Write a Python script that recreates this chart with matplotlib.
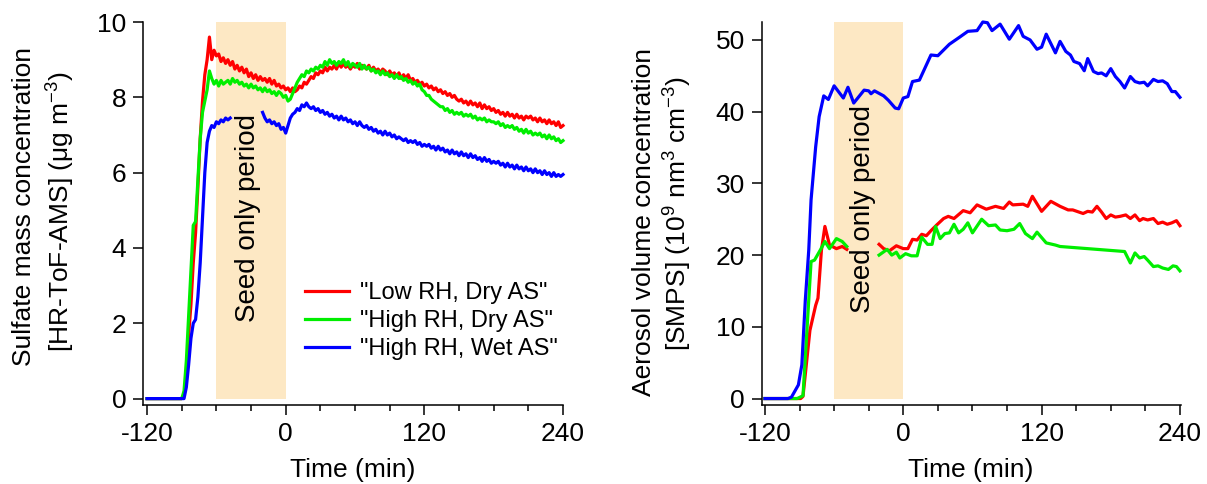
import matplotlib
matplotlib.use('Agg')
import matplotlib.pyplot as plt
import numpy as np

plt.rcParams['font.family'] = ['Liberation Sans', 'DejaVu Sans']
plt.rcParams['mathtext.fontset'] = 'custom'
plt.rcParams['mathtext.rm'] = 'Liberation Sans'
plt.rcParams['mathtext.it'] = 'Liberation Sans:italic'
plt.rcParams['axes.unicode_minus'] = False

nan = np.nan

# HR-ToF-AMS sulfate, 2-min grid from -120 to 240 min
ams_time = np.arange(-120, 241, 2)
ams_low_dry = [
    0, 0, 0, 0, 0, 0, 0, 0, 0, 0,
    0, 0, 0, 0, 0, 0, 0.1, 0.6, 1.7, 2.5,
    3.6, 4.4, 5.6, 6.9, 7.9, 8.6, 9.0, 9.6, 9.0, 9.25,
    9.1, 9.15, 8.95, 9.05, 8.9, 9.0, 8.85, 8.95, 8.75, 8.85,
    8.7, 8.8, 8.65, 8.75, 8.55, 8.65, 8.5, 8.6, 8.45, 8.55,
    8.45, 8.5, 8.4, 8.5, 8.35, 8.45, 8.3, 8.35, 8.25, 8.3,
    8.2, 8.25, 8.15, 8.25, 8.15, 8.2, 8.3, 8.25, 8.4, 8.35,
    8.45, 8.55, 8.5, 8.65, 8.6, 8.7, 8.65, 8.8, 8.7, 8.8,
    8.75, 8.85, 8.75, 8.9, 8.8, 8.9, 8.8, 8.85, 8.75, 8.85,
    8.8, 8.9, 8.75, 8.85, 8.8, 8.75, 8.85, 8.7, 8.8, 8.7,
    8.75, 8.65, 8.75, 8.7, 8.6, 8.7, 8.6, 8.65, 8.55, 8.65,
    8.5, 8.6, 8.5, 8.6, 8.45, 8.5, 8.4, 8.45, 8.35, 8.4,
    8.3, 8.35, 8.25, 8.3, 8.2, 8.25, 8.15, 8.2, 8.1, 8.15,
    8.05, 8.1, 8.0, 8.05, 7.95, 7.9, 7.95, 7.85, 7.9, 7.8,
    7.9, 7.8, 7.85, 7.75, 7.85, 7.7, 7.8, 7.7, 7.75, 7.65,
    7.7, 7.6, 7.65, 7.55, 7.6, 7.5, 7.6, 7.5, 7.55, 7.45,
    7.55, 7.45, 7.5, 7.4, 7.5, 7.45, 7.5, 7.4, 7.45, 7.35,
    7.45, 7.35, 7.4, 7.3, 7.4, 7.3, 7.35, 7.25, 7.35, 7.2,
    7.25]
ams_high_dry = [
    0, 0, 0, 0, 0, 0, 0, 0, 0, 0,
    0, 0, 0, 0, 0, 0, 0.2, 1.0, 2.2, 3.4,
    4.6, 4.7, 5.8, 6.9, 7.6, 7.9, 8.2, 8.7, 8.5, 8.35,
    8.45, 8.3, 8.45, 8.35, 8.4, 8.45, 8.35, 8.5, 8.4, 8.45,
    8.35, 8.4, 8.3, 8.35, 8.25, 8.35, 8.25, 8.3, 8.2, 8.25,
    8.15, 8.25, 8.15, 8.2, 8.1, 8.15, 8.05, 8.15, 8.1, 8.0,
    8.05, 7.9, 7.95, 8.1, 8.25, 8.4, 8.5, 8.6, 8.55, 8.7,
    8.65, 8.75, 8.7, 8.8, 8.75, 8.85, 8.8, 8.95, 8.85, 9.0,
    8.9, 8.95, 8.85, 8.95, 8.9, 9.0, 8.85, 8.95, 8.8, 8.9,
    8.85, 8.8, 8.9, 8.75, 8.85, 8.75, 8.8, 8.7, 8.75, 8.65,
    8.7, 8.6, 8.7, 8.6, 8.65, 8.55, 8.6, 8.5, 8.6, 8.5,
    8.55, 8.45, 8.5, 8.4, 8.45, 8.35, 8.4, 8.3, 8.35, 8.2,
    8.15, 8.05, 8.05, 7.95, 7.9, 7.85, 7.8, 7.75, 7.75, 7.65,
    7.7, 7.6, 7.65, 7.55, 7.6, 7.55, 7.6, 7.5, 7.55, 7.5,
    7.55, 7.45, 7.5, 7.4, 7.45, 7.4, 7.45, 7.35, 7.4, 7.35,
    7.35, 7.3, 7.35, 7.25, 7.3, 7.2, 7.25, 7.2, 7.25, 7.15,
    7.2, 7.1, 7.15, 7.05, 7.15, 7.05, 7.1, 7.0, 7.05, 7.0,
    7.05, 6.95, 7.0, 6.9, 7.0, 6.9, 6.95, 6.85, 6.9, 6.8,
    6.85]
ams_high_wet = [
    0, 0, 0, 0, 0, 0, 0, 0, 0, 0,
    0, 0, 0, 0, 0, 0, 0, 0.3, 0.9, 1.6,
    2.0, 2.1, 2.7, 3.6, 4.8, 6.0, 6.8, 7.1, 7.25, 7.2,
    7.35, 7.3, 7.4, 7.35, 7.45, 7.4, 7.45, nan, nan, nan,
    nan, nan, nan, nan, nan, nan, nan, nan, nan, nan,
    7.6, 7.45, 7.35, 7.4, 7.3, 7.35, 7.25, 7.3, 7.15, 7.2,
    7.05, 7.25, 7.45, 7.55, 7.6, 7.7, 7.65, 7.8, 7.75, 7.85,
    7.75, 7.7, 7.75, 7.65, 7.7, 7.6, 7.65, 7.55, 7.6, 7.5,
    7.55, 7.45, 7.5, 7.4, 7.5, 7.4, 7.45, 7.35, 7.4, 7.3,
    7.35, 7.25, 7.35, 7.25, 7.2, 7.25, 7.15, 7.2, 7.1, 7.15,
    7.05, 7.1, 7.0, 7.1, 7.0, 7.05, 6.95, 7.0, 6.9, 6.95,
    6.9, 6.85, 6.9, 6.8, 6.85, 6.8, 6.85, 6.75, 6.8, 6.7,
    6.75, 6.7, 6.75, 6.65, 6.7, 6.6, 6.7, 6.6, 6.65, 6.55,
    6.6, 6.5, 6.6, 6.5, 6.55, 6.45, 6.55, 6.45, 6.5, 6.4,
    6.5, 6.4, 6.45, 6.35, 6.4, 6.3, 6.4, 6.3, 6.35, 6.25,
    6.3, 6.25, 6.3, 6.2, 6.25, 6.15, 6.25, 6.15, 6.2, 6.1,
    6.2, 6.1, 6.15, 6.05, 6.15, 6.05, 6.1, 6.0, 6.1, 6.0,
    6.05, 5.95, 6.05, 5.95, 6.0, 5.9, 6.0, 5.9, 5.95, 5.9,
    5.95]

# SMPS volume concentration (scan times differ per experiment)
smps_t_low_dry = [-120, -116, -112, -108, -104, -100, -96, -92, -89, -87,
                  -81, -76, -74, -71, -68, -64, -58, -53, -49, -35,
                  -21, -17, -12, -6, 0, 4, 8, 12, 16, 20,
                  24, 29, 35, 39, 44, 52, 58, 64, 72, 80,
                  87, 92, 95, 104, 108, 112, 120, 128, 136, 143,
                  147, 156, 160, 164, 168, 172, 176, 180, 184, 188,
                  193, 197, 201, 205, 208, 212, 217, 221, 225, 229,
                  233, 237, 240]
smps_low_dry = [0, 0, 0, 0, 0, 0, 0, 0, 0, 0.3,
                9.5, 13.0, 14.0, 20.7, 24.0, 21.4, 20.9, 21.2, 20.8, nan,
                21.5, 20.9, 20.6, 21.3, 20.9, 20.9, 22.2, 22.1, 22.9, 22.7,
                23.4, 24.2, 25.1, 25.4, 25.1, 26.2, 25.9, 27.0, 26.4, 26.8,
                26.5, 27.4, 27.0, 27.1, 26.8, 28.2, 26.1, 27.5, 26.8, 26.3,
                26.3, 25.8, 26.1, 26.0, 26.8, 26.0, 25.1, 25.6, 25.3, 25.4,
                25.6, 25.1, 25.6, 24.8, 25.1, 24.9, 25.1, 24.4, 24.6, 24.3,
                24.5, 24.8, 24.1]

smps_t_high_dry = [-120, -116, -112, -108, -104, -100, -96, -92, -87, -80,
                   -77, -72, -68, -64, -58, -53, -49, -35, -21, -14,
                   -10, -6, -3, 2, 7, 12, 16, 21, 25, 28,
                   32, 36, 40, 44, 48, 52, 56, 60, 68, 74,
                   80, 84, 90, 96, 101, 106, 112, 116, 124, 132,
                   136, 192, 197, 201, 205, 209, 212, 217, 221, 225,
                   230, 234, 237, 240]
smps_high_dry = [0, 0, 0, 0, 0, 0, 0, 0, 0.4, 19.1,
                 19.3, 20.7, 21.9, 20.9, 22.3, 21.9, 21.2, nan, 20.0, 20.8,
                 20.0, 20.4, 19.6, 20.2, 19.9, 19.9, 22.5, 21.5, 21.5, 24.0,
                 22.3, 23.0, 23.1, 24.3, 23.1, 23.6, 24.5, 23.1, 25.0, 24.1,
                 24.2, 23.5, 23.4, 23.6, 24.4, 23.0, 22.3, 23.2, 21.7, 21.4,
                 21.2, 20.5, 18.9, 20.3, 19.6, 19.8, 19.3, 18.4, 18.5, 18.2,
                 18.0, 18.5, 18.4, 17.8]

smps_t_high_wet = [-120, -116, -112, -108, -104, -100, -97, -91, -88, -85,
                   -82, -80, -76, -73, -69, -65, -60, -52, -48, -43,
                   -34, -30, -28, -25, -17, -13, -7, -4, 0, 4,
                   8, 14, 24, 30, 40, 49, 56, 64, 69, 73,
                   77, 84, 92, 100, 104, 110, 116, 120, 124, 132,
                   136, 141, 145, 148, 153, 157, 160, 165, 169, 172,
                   176, 180, 184, 188, 192, 197, 201, 205, 209, 212,
                   217, 221, 225, 229, 233, 236, 240]
smps_high_wet = [0, 0, 0, 0, 0, 0, 0.2, 1.9, 4.7, 13.7,
                 20.7, 27.7, 35.1, 39.3, 42.2, 41.7, 43.6, 41.9, 43.4, 41.2,
                 43.0, 42.9, 42.5, 42.9, 42.2, 41.6, 40.5, 40.4, 41.9, 42.1,
                 44.2, 44.4, 47.9, 47.8, 49.4, 50.4, 51.2, 51.3, 52.5, 52.4,
                 51.3, 52.2, 50.1, 52.0, 50.5, 50.0, 48.7, 49.0, 50.8, 48.2,
                 49.8, 48.4, 47.9, 47.0, 46.7, 45.7, 47.4, 45.6, 45.3, 45.4,
                 45.0, 46.0, 44.9, 44.2, 43.3, 44.9, 44.2, 44.0, 44.1, 43.6,
                 44.5, 44.2, 44.3, 43.9, 42.8, 42.8, 42.0]

labels = ['"Low RH, Dry AS"', '"High RH, Dry AS"', '"High RH, Wet AS"']
colors = ['#FF0000', '#00EE00', '#0000FF']
seed_start, seed_end = -60, 0
seed_color = '#FDE8C4'

W, H = 1207, 484
fig = plt.figure(figsize=(W / 100, H / 100), dpi=100)


def make_axes(left_px, right_px, xlim, ylim, yticks):
    ax = fig.add_axes([left_px / W, 1 - 405 / H, (right_px - left_px) / W, 383 / H])
    ax.set_xlim(*xlim)
    ax.set_ylim(*ylim)
    for s in ['top', 'right']:
        ax.spines[s].set_visible(False)
    for s in ['left', 'bottom']:
        ax.spines[s].set_linewidth(1.1)
    ax.set_xticks([-120, 0, 120, 240])
    ax.set_xticks(np.arange(-120, 241, 30), minor=True)
    ax.set_yticks(yticks)
    ax.tick_params(which='major', length=7, width=1.1, labelsize=19, pad=5)
    ax.tick_params(which='minor', length=4, width=1.1)
    ax.tick_params(axis='y', which='minor', left=False)
    ax.set_xlabel('Time (min)', fontsize=19, labelpad=9)
    return ax


# left panel: sulfate mass
ax1 = make_axes(143, 563, (-123.5, 240), (-0.17, 10), range(0, 11, 2))
ax1.fill_between([seed_start, seed_end], 0, 10, color=seed_color, lw=0, zorder=0)
ax1.text(-33, 4.8, 'Seed only period', rotation=90, ha='center', va='center', fontsize=20)
for y, c, lab in zip([ams_low_dry, ams_high_dry, ams_high_wet], colors, labels):
    ax1.plot(ams_time, y, color=c, lw=2.3, label=lab, clip_on=False)
ax1.legend(loc='upper left', bbox_to_anchor=(305 / W, 1 - 282 / H), bbox_transform=fig.transFigure,
           frameon=False, fontsize=17, handlelength=1.85, handletextpad=0.5,
           labelspacing=0.25, borderpad=0, borderaxespad=0)
fig.text(24 / W, 1 - 207 / H, 'Sulfate mass concentration', rotation=90,
         ha='center', va='center', fontsize=19)
fig.text(61 / W, 1 - 212 / H, '[HR-ToF-AMS] (μg m$^{-3}$)', rotation=90,
         ha='center', va='center', fontsize=19)

# right panel: SMPS volume
ax2 = make_axes(761.5, 1180.5, (-123, 240.5), (-0.9, 52.5), range(0, 51, 10))
ax2.fill_between([seed_start, seed_end], 0, 52.5, color=seed_color, lw=0, zorder=0)
ax2.text(-35, 26.4, 'Seed only period', rotation=90, ha='center', va='center', fontsize=20)
for t, y, c in zip([smps_t_low_dry, smps_t_high_dry, smps_t_high_wet],
                   [smps_low_dry, smps_high_dry, smps_high_wet], colors):
    ax2.plot(t, y, color=c, lw=2.3, clip_on=False)
fig.text(644 / W, 1 - 222 / H, 'Aerosol volume concentration', rotation=90,
         ha='center', va='center', fontsize=19)
fig.text(678 / W, 1 - 214 / H, '[SMPS] (10$^{9}$ nm$^{3}$ cm$^{-3}$)', rotation=90,
         ha='center', va='center', fontsize=19)

fig.savefig('out.png', dpi=100)
